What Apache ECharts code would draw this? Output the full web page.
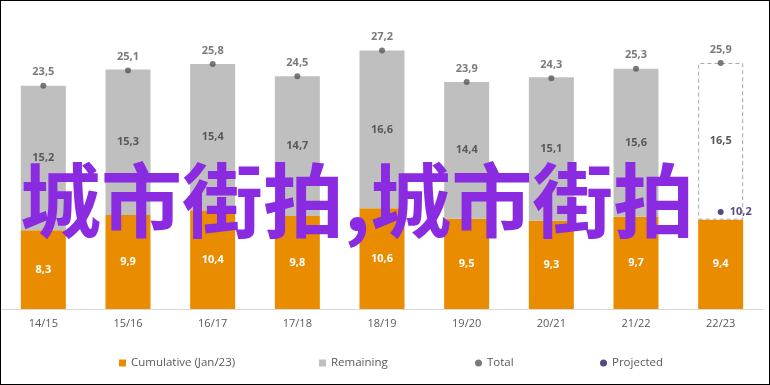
<!DOCTYPE html>
<html>
<head>
<meta charset="utf-8">
<script src="https://cdn.jsdelivr.net/npm/echarts@6/dist/echarts.min.js"></script>
<style>
html,body{margin:0;padding:0;background:#fff;}
#wrap{position:relative;width:770px;height:385px;}
#chart{width:770px;height:385px;}
#frame{position:absolute;left:0;top:0;width:770px;height:385px;box-sizing:border-box;border:1px solid #000;pointer-events:none;}
</style>
</head>
<body>
<div id="wrap"><div id="chart"></div><div id="frame"></div></div>
<script>
const categories = ['14/15','15/16','16/17','17/18','18/19','19/20','20/21','21/22','22/23'];
const cumulative = [8.3, 9.9, 10.4, 9.8, 10.6, 9.5, 9.3, 9.7, 9.4];
const remaining = [15.2, 15.3, 15.4, 14.7, 16.6, 14.4, 15.1, 15.6, 16.5];
const total = [23.5, 25.1, 25.8, 24.5, 27.2, 23.9, 24.3, 25.3, 25.9];
const projected = [null, null, null, null, null, null, null, null, 10.2];
const watermark = '城市街拍,城市街拍';

const FONT = 'Open Sans';
const fmt = v => String(v).replace('.', ',');
const ORANGE = '#ea8c00', GRAY = '#bfbfbf', DARK = '#595959', NAVY = '#2a1a66';

const remData = remaining.map((v, i) => i === remaining.length - 1
  ? {value: v, itemStyle: {color: '#ffffff', borderColor: '#a6a6a6', borderWidth: 1, borderType: [4, 3]}}
  : v);

const chart = echarts.init(document.getElementById('chart'), null, {renderer: 'canvas'});
const legendBase = {bottom: 11, itemWidth: 7, itemHeight: 7, itemGap: 3,
  textStyle: {color: DARK, fontSize: 11.5, fontFamily: FONT}};
chart.setOption({
  animation: false,
  textStyle: {fontFamily: FONT},
  grid: {left: 1, right: 7, top: 24, bottom: 76},
  legend: [
    Object.assign({}, legendBase, {left: 114, data: [{name: 'Cumulative (Jan/23)', icon: 'rect'}]}),
    Object.assign({}, legendBase, {left: 314, data: [{name: 'Remaining', icon: 'rect'}]}),
    Object.assign({}, legendBase, {left: 470, data: [{name: 'Total', icon: 'circle'}]}),
    Object.assign({}, legendBase, {left: 595, data: [{name: 'Projected', icon: 'circle'}]})
  ],
  xAxis: {
    type: 'category', data: categories,
    axisLine: {lineStyle: {color: '#d9d9d9', width: 1}},
    axisTick: {show: false},
    axisLabel: {color: DARK, fontSize: 11, margin: 9, fontFamily: FONT}
  },
  yAxis: {type: 'value', min: 0, max: 30, show: false, splitLine: {show: false}},
  series: [
    {name: 'Cumulative (Jan/23)', type: 'bar', stack: 's', barWidth: 45, data: cumulative,
      itemStyle: {color: ORANGE},
      label: {show: true, position: 'inside', color: '#fff', fontSize: 11, fontWeight: 'bold',
        formatter: p => fmt(p.value)}},
    {name: 'Remaining', type: 'bar', stack: 's', barWidth: 45, data: remData,
      itemStyle: {color: GRAY},
      label: {show: true, position: 'inside', color: DARK, fontSize: 11, fontWeight: 'bold',
        formatter: p => fmt(p.value)}},
    {name: 'Total', type: 'scatter', data: total, symbolSize: 6, z: 5,
      itemStyle: {color: DARK},
      label: {show: true, position: 'top', distance: 5, color: DARK, fontSize: 11, fontWeight: 'bold',
        formatter: p => fmt(p.value)}},
    {name: 'Projected', type: 'scatter', data: projected, symbolSize: 6, z: 5,
      itemStyle: {color: NAVY},
      label: {show: true, position: 'right', distance: 6, color: NAVY, fontSize: 11, fontWeight: 'bold',
        formatter: p => fmt(p.value)}}
  ],
  graphic: [{
    type: 'text', left: 20, top: 160, z: 100,
    style: {text: watermark, fill: '#8a2be2', font: 'bold 81px "Noto Sans CJK SC"'}
  }]
});
</script>
</body>
</html>
